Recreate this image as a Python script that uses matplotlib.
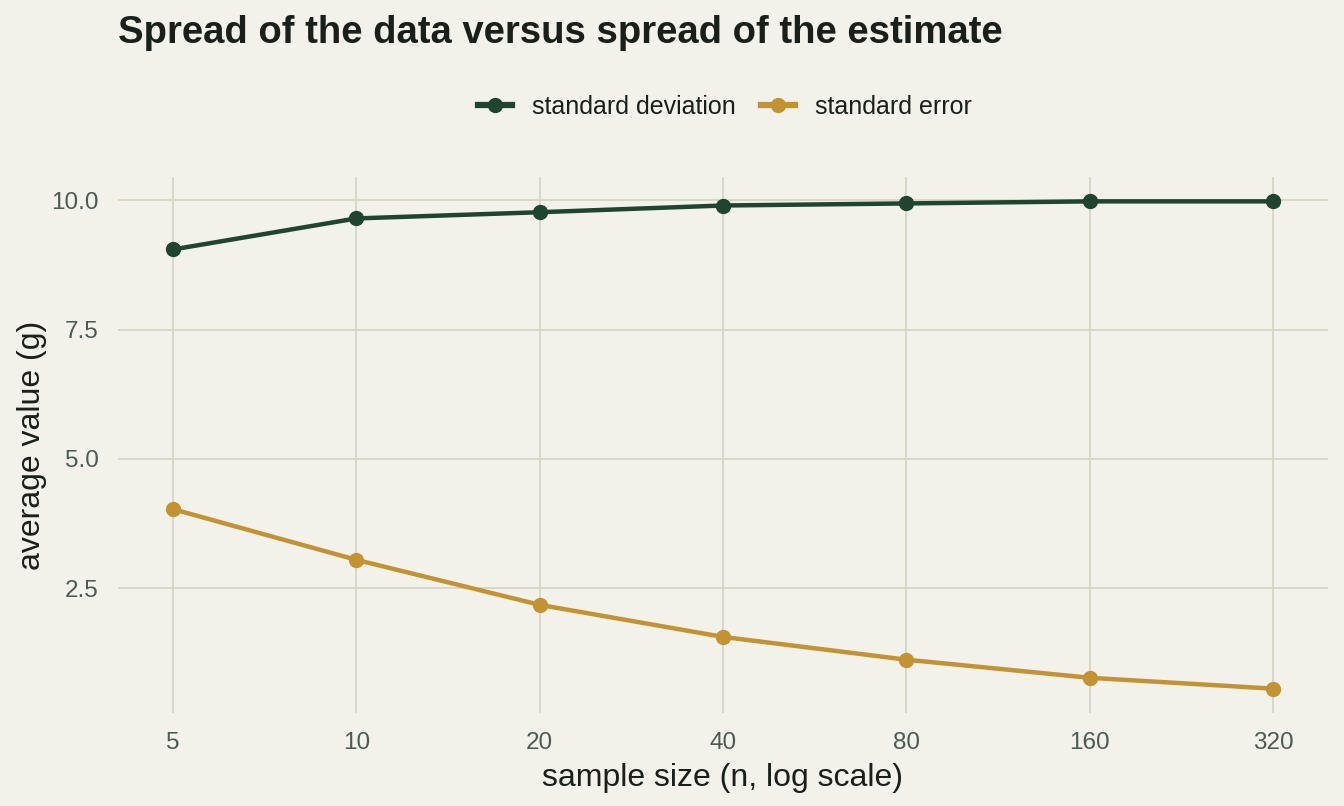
import matplotlib
matplotlib.use("Agg")
import matplotlib.pyplot as plt
from matplotlib.ticker import FixedLocator, NullLocator
import numpy as np

sample_sizes = [5, 10, 20, 40, 80, 160, 320]
sd_values = [9.05, 9.65, 9.77, 9.90, 9.94, 9.98, 9.98]
se_values = [4.03, 3.05, 2.18, 1.56, 1.12, 0.77, 0.56]
x_tick_labels = ["5", "10", "20", "40", "80", "160", "320"]
y_ticks = [2.5, 5.0, 7.5, 10.0]
y_tick_labels = ["2.5", "5.0", "7.5", "10.0"]

BG = "#f2f1ea"
GRID = "#d6d6c5"
GREEN = "#1f4430"
GOLD = "#c39333"
TICKC = "#4d5a52"
TEXTC = "#1a1f1a"

plt.rcParams["font.family"] = ["Liberation Sans", "DejaVu Sans"]

fig = plt.figure(figsize=(13.44, 8.06), dpi=100, facecolor=BG)
W, H = 1344, 806
left, right, top, bottom = 118, 1328, 177, 713
ax = fig.add_axes([left / W, 1 - bottom / H, (right - left) / W, (bottom - top) / H])
ax.set_facecolor(BG)

ax.set_xscale("log", base=2)
ax.plot(sample_sizes, sd_values, color=GREEN, lw=3.2, marker="o", ms=10,
        label="standard deviation", zorder=3)
ax.plot(sample_sizes, se_values, color=GOLD, lw=3.2, marker="o", ms=10,
        label="standard error", zorder=3)

lx = np.log2(sample_sizes)
pad = (lx.max() - lx.min()) * 0.05
ax.set_xlim(2 ** (lx.min() - pad), 2 ** (lx.max() + pad))
allv = sd_values + se_values
ypad = (max(allv) - min(allv)) * 0.05
ax.set_ylim(min(allv) - ypad, max(allv) + ypad)

ax.xaxis.set_major_locator(FixedLocator(sample_sizes))
ax.xaxis.set_minor_locator(NullLocator())
ax.set_xticklabels(x_tick_labels)
ax.set_yticks(y_ticks)
ax.set_yticklabels(y_tick_labels)
ax.yaxis.set_minor_locator(NullLocator())

ax.grid(True, color=GRID, lw=1.3, zorder=0)
for s in ax.spines.values():
    s.set_visible(False)
ax.tick_params(length=0, labelsize=17.5, colors=TICKC)
ax.tick_params(axis="x", pad=14)
ax.tick_params(axis="y", pad=14)

ax.set_xlabel("sample size (n, log scale)", fontsize=23, color=TEXTC, labelpad=6)
ax.set_ylabel("average value (g)", fontsize=23, color=TEXTC, labelpad=3)

fig.text(118 / W, 1 - 43 / H, "Spread of the data versus spread of the estimate",
         fontsize=27.5, fontweight="bold", color=TEXTC, va="baseline", ha="left")

leg = fig.legend(loc="center", bbox_to_anchor=(725 / W, 1 - 107 / H), ncol=2,
                 frameon=False, fontsize=18, handlelength=1.35, columnspacing=1.0,
                 handletextpad=0.8)
for t in leg.get_texts():
    t.set_color(TEXTC)
for h in leg.legend_handles:
    h.set_linewidth(4.5)
    h.set_markersize(10)

fig.savefig("out.png", dpi=100, facecolor=BG)
